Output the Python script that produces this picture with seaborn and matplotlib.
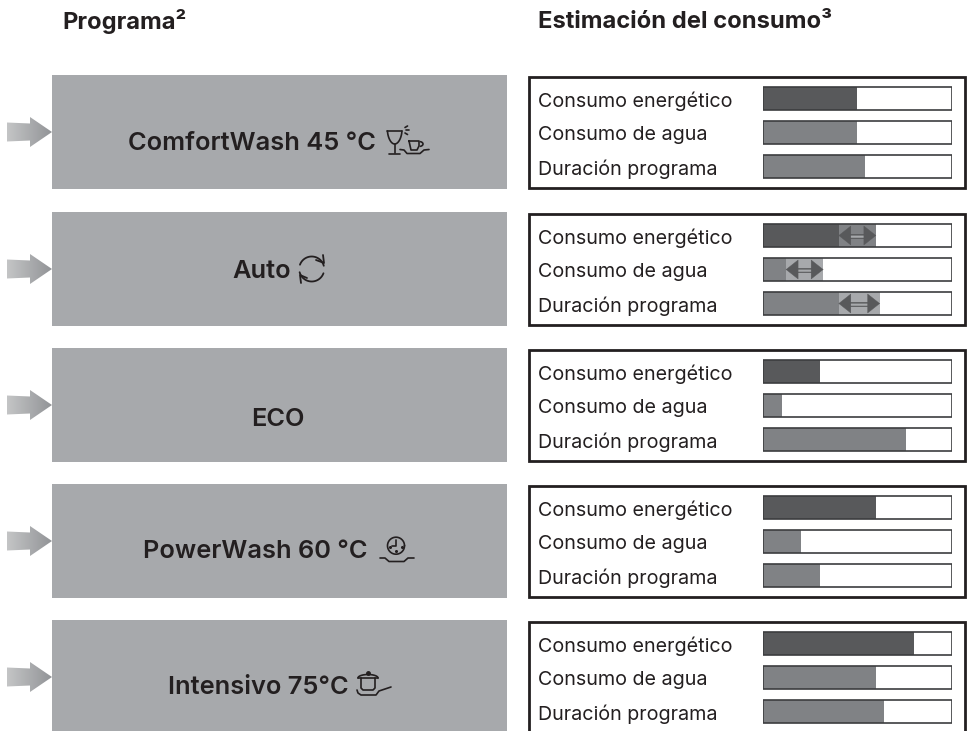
import numpy as np
import pandas as pd
import seaborn as sns
import matplotlib.pyplot as plt
from matplotlib.colors import LinearSegmentedColormap
from matplotlib.patches import Rectangle, Polygon

sns.set_theme(style="white")
plt.rcParams['font.family'] = ['Inter', 'DejaVu Sans']

# Data
programs = ['ComfortWash 45 °C', 'Auto', 'ECO', 'PowerWash 60 °C', 'Intensivo 75°C']
measures = ['Consumo energético', 'Consumo de agua', 'Duración programa']
energy = [50, 40, 30, 60, 80]
water = [50, 12, 10, 20, 60]
duration = [54, 40, 76, 30, 64]
energy_max = [50, 60, 30, 60, 80]
water_max = [50, 32, 10, 20, 60]
duration_max = [54, 62, 76, 30, 64]

DARK = '#58595b'
MID = '#808285'
LIGHT = '#a7a9ac'
INK = '#231f20'

fig = plt.figure(figsize=(9.69, 7.31), dpi=100)
W, H = 969, 731

# background layer in pixel coordinates
bg = fig.add_axes([0, 0, 1, 1])
bg.axis('off')

tops = [75, 212, 348, 484, 620]
text_x = [128, 232, 251, 143, 168]
text_y = [144, 271, 420, 552, 688]
arrow_cmap = LinearSegmentedColormap.from_list('arrow', ['#c4c5c6', '#929497'])

grad = np.linspace(0, 1, 64).reshape(1, -1)
for top, name, tx, ty in zip(tops, programs, text_x, text_y):
    bg.add_patch(Rectangle((52, top), 455, 114, fc=LIGHT, ec='none'))
    bg.add_patch(Rectangle((529.5, top + 1.5), 436, 111, fc='white', ec=INK, lw=2))
    bg.text(tx, ty, name, fontsize=18.3, fontweight=600, color=INK, va='center', ha='left')
    # gradient arrow
    c = top + 57
    arrow = Polygon([(7, c - 9.5), (30, c - 8.5), (30, c - 15), (52, c), (30, c + 15),
                     (30, c + 8.5), (7, c + 9.5)], closed=True, fc='none', ec='none')
    bg.add_patch(arrow)
    im = bg.imshow(grad, extent=(7, 52, c + 15, c - 15), aspect='auto', cmap=arrow_cmap, zorder=2)
    im.set_clip_path(arrow)

bg.set_xlim(0, W)
bg.set_ylim(H, 0)

bg.text(62, 22, 'Programa²', fontsize=17.1, fontweight=700, color=INK, va='center')
bg.text(538, 22, 'Estimación del consumo³', fontsize=17.1, fontweight=700, color=INK, va='center')


def icon(xs, ys, lw=1.2):
    bg.plot(xs, ys, color=INK, lw=lw, solid_capstyle='round', zorder=3)


# glass and cup
icon([387.5, 402], [131, 131])
t = np.linspace(0, np.pi, 30)
icon(394.7 + 7.2 * np.cos(t), 131 + 13 * np.sin(t) ** 1.2)
icon([394.7, 394.7], [144, 153])
icon([389, 400], [153.5, 153.5])
icon([405, 407.5], [127.5, 126])
icon([406, 409], [130, 130])
icon([405, 407.5], [133, 134.5])
icon([409, 419, 419, 417, 411, 409], [141, 141, 146, 150, 150, 141])
t = np.linspace(-1.2, 1.2, 20)
icon(419 + 4 * np.cos(t), 144 + 2.5 * np.sin(t))
icon([400, 404, 407, 420, 424, 429], [149.5, 150, 153.5, 153.5, 150, 149.5])

# auto arrows
t = np.linspace(np.radians(200), np.radians(345), 30)
icon(311.7 + 12.5 * np.cos(t), 269 + 12.5 * np.sin(t), 1.3)
t = np.linspace(np.radians(20), np.radians(165), 30)
icon(311.7 + 12.5 * np.cos(t), 269 + 12.5 * np.sin(t), 1.3)
icon([316, 324, 323], [260, 263, 255], 1.3)
icon([307, 300, 301], [278, 275, 283], 1.3)

# clock
t = np.linspace(0, 2 * np.pi, 50)
icon(396 + 8.5 * np.cos(t), 545.7 + 8.5 * np.sin(t))
icon([396, 396, 392.5], [540, 546, 546])
bg.plot([390, 402, 396], [547, 547, 551], ls='none', marker='o', ms=1.2, color=INK, zorder=3)
icon([380, 385, 389, 404, 408, 414], [558, 558, 561.5, 561.5, 558, 558])

# pot
t = np.linspace(np.pi, 2 * np.pi, 30)
icon(368 + 10 * np.cos(t), 678 + 3.5 * np.sin(t))
icon([358, 378], [678, 678])
icon([361, 361, 363, 373, 375, 375], [678, 688, 690, 690, 688, 678])
bg.plot([368], [673], ls='none', marker='o', ms=2.5, color=INK, zorder=3)
icon([357, 358, 361, 376, 379, 391], [690, 693, 695, 695, 691, 687])

# bars, one axes per program
for i, top in enumerate(tops):
    df = pd.DataFrame({
        'measure': measures,
        'base': [energy[i], water[i], duration[i]],
        'high': [energy_max[i], water_max[i], duration_max[i]],
        'track': [100, 100, 100],
    })
    ax = fig.add_axes([763.2 / W, 1 - (top + 108.5) / H, 188.3 / W, 102 / H])
    ax.patch.set_alpha(0)
    sns.barplot(data=df, x='high', y='measure', hue='measure', dodge=False, orient='h', legend=False,
                palette=dict(zip(measures, [MID, LIGHT, LIGHT])), saturation=1, width=0.68, linewidth=0, ax=ax)
    sns.barplot(data=df, x='base', y='measure', hue='measure', dodge=False, orient='h', legend=False,
                palette=dict(zip(measures, [DARK, MID, MID])), saturation=1, width=0.68, linewidth=0, ax=ax)
    sns.barplot(data=df, x='track', y='measure', orient='h', color='#3c3d3f', fill=False, linewidth=1.2,
                saturation=1, width=0.68, ax=ax)
    for row, (lo, hi) in enumerate(zip(df['base'], df['high'])):
        if hi > lo:
            # shaft is a dark stripe with a lighter centre
            ax.plot([lo + 3, hi - 3], [row, row], color=DARK, lw=3.4, solid_capstyle='butt')
            ax.plot([lo + 5, hi - 5], [row, row], color=LIGHT, lw=1.8, solid_capstyle='butt')
            ax.annotate('', xy=(hi, row), xytext=(lo, row),
                        arrowprops=dict(arrowstyle='<|-|>,head_length=0.86,head_width=0.68', mutation_scale=10,
                                        color=DARK, lw=0.3, shrinkA=0, shrinkB=0))
        bg.text(538, top + 26 + row * 34, measures[row], fontsize=14.2, color=INK, va='center')
    ax.set_xlim(0, 100)
    ax.set_ylim(2.5, -0.5)
    ax.axis('off')

plt.savefig('out.png', dpi=100)
